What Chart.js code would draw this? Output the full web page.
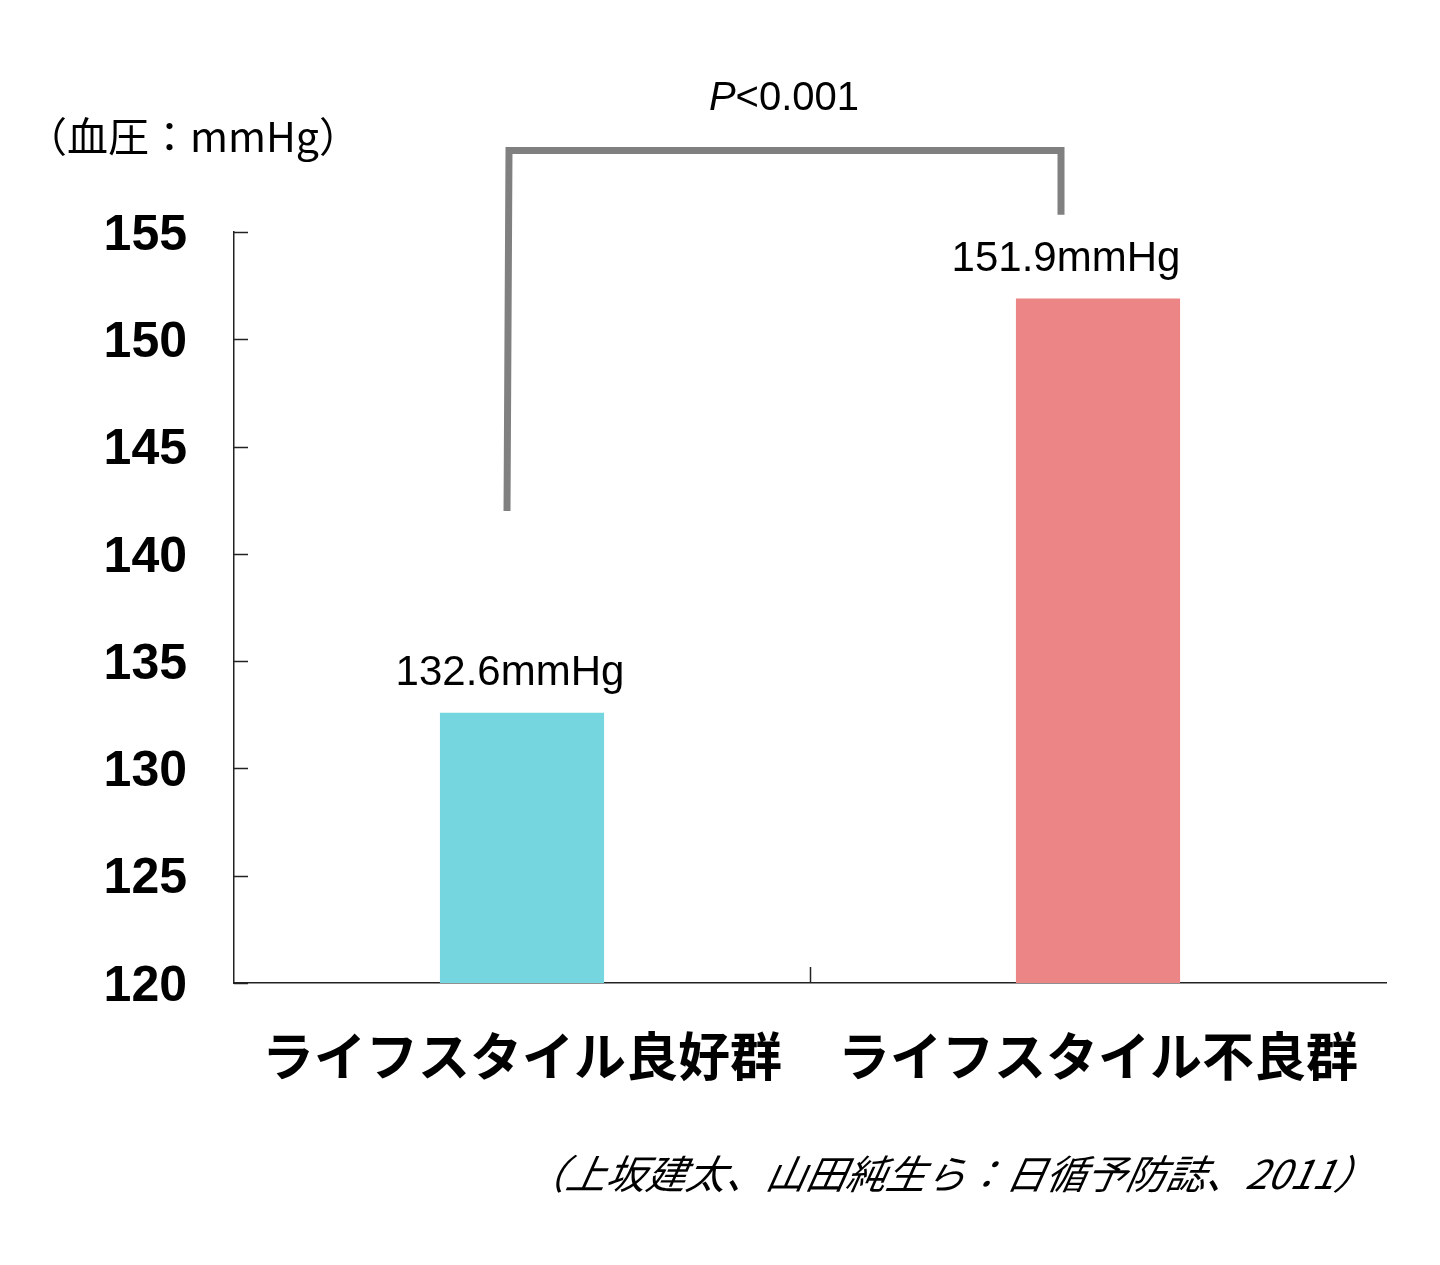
<!DOCTYPE html>
<html lang="ja">
<head>
<meta charset="utf-8">
<title>血圧 ライフスタイル</title>
<script src="https://cdn.jsdelivr.net/npm/chart.js@4/dist/chart.umd.min.js"></script>
<style>
  html, body { margin: 0; padding: 0; background: #fff; }
  #wrap { width: 1440px; height: 1265px; position: relative; }
</style>
</head>
<body>
<div id="wrap"><canvas id="chart"></canvas></div>
<script>
const groups = ["ライフスタイル良好群", "ライフスタイル不良群"];
const bloodPressure = [132.6, 151.9];
const barColors = ["#76d6df", "#ec8585"];
const yTicks = [120, 125, 130, 135, 140, 145, 150, 155];
const unitLabel = "（血圧：mmHg）";
const pLabel = "<0.001";
const sourceNote = "（上坂建太、山田純生ら：日循予防誌、2011）";

// bracket levels in axis units
const bracketTop = 158.8;
const bracketLeftEnd = 142.0;
const bracketRightEnd = 155.8;

const JP = '"Noto Sans CJK JP", sans-serif';
const LAT = '"Liberation Sans", Arial, sans-serif';

const extras = {
  id: "extras",
  afterDraw(chart) {
    const ctx = chart.ctx;
    const x = chart.scales.x, y = chart.scales.y;
    const area = chart.chartArea;
    ctx.save();

    // inward tick marks on y axis
    ctx.strokeStyle = "#222";
    ctx.lineWidth = 1.5;
    yTicks.forEach(v => {
      const py = Math.round(y.getPixelForValue(v)) + 0.5;
      ctx.beginPath();
      ctx.moveTo(area.left, py);
      ctx.lineTo(area.left + 14, py);
      ctx.stroke();
    });
    // category divider tick on x axis
    for (let i = 1; i < groups.length; i++) {
      const px = Math.round((x.getPixelForValue(i - 1) + x.getPixelForValue(i)) / 2) + 0.5;
      ctx.beginPath();
      ctx.moveTo(px, area.bottom);
      ctx.lineTo(px, area.bottom - 16);
      ctx.stroke();
    }

    // value labels
    const meta = chart.getDatasetMeta(0);
    const shift = [-12, -32];
    ctx.fillStyle = "#000";
    ctx.font = "42px " + LAT;
    ctx.textAlign = "center";
    ctx.textBaseline = "alphabetic";
    meta.data.forEach((bar, i) => {
      ctx.fillText(bloodPressure[i].toFixed(1) + "mmHg", bar.x + shift[i], bar.y - 28);
    });

    // significance bracket
    const b0 = meta.data[0], b1 = meta.data[1];
    const lx = b0.x - 15, rx = b1.x - 37;
    const ty = y.getPixelForValue(bracketTop);
    ctx.strokeStyle = "#808080";
    ctx.lineWidth = 7;
    ctx.lineJoin = "miter";
    ctx.beginPath();
    ctx.moveTo(lx, y.getPixelForValue(bracketLeftEnd));
    ctx.lineTo(lx + 2, ty);
    ctx.lineTo(rx, ty);
    ctx.lineTo(rx, y.getPixelForValue(bracketRightEnd));
    ctx.stroke();

    // P value
    const midX = (lx + rx) / 2;
    ctx.font = "italic 40px " + LAT;
    const pw = ctx.measureText("P").width;
    ctx.font = "40px " + LAT;
    const rw = ctx.measureText(pLabel).width;
    const startX = midX - (pw + rw) / 2;
    ctx.textAlign = "left";
    ctx.font = "italic 40px " + LAT;
    ctx.fillText("P", startX, 110);
    ctx.font = "40px " + LAT;
    ctx.fillText(pLabel, startX + pw, 110);

    // unit label
    ctx.font = "41px " + JP;
    ctx.textBaseline = "middle";
    ctx.fillText(unitLabel, 26, 136);

    // source note (oblique)
    ctx.font = "italic 40px " + JP;
    ctx.textAlign = "right";
    ctx.translate(1376, 1174);
    ctx.transform(1, 0, -0.2, 1, 0, 0);
    ctx.fillText(sourceNote, 0, 0);

    ctx.restore();
  }
};

new Chart(document.getElementById("chart"), {
  type: "bar",
  data: {
    labels: groups,
    datasets: [{
      data: bloodPressure,
      backgroundColor: barColors,
      borderWidth: 0,
      barPercentage: 0.57,
      categoryPercentage: 0.5
    }]
  },
  options: {
    responsive: true,
    maintainAspectRatio: false,
    devicePixelRatio: 1,
    animation: false,
    layout: { padding: { top: 232, right: 54, bottom: 162, left: 0 } },
    plugins: { legend: { display: false }, tooltip: { enabled: false } },
    scales: {
      x: {
        grid: { display: false },
        border: { display: true, color: "#222", width: 1.5 },
        ticks: {
          color: "#000",
          padding: 34,
          font: { family: JP, size: 52, weight: "bold" }
        },
        afterFit(scale) { scale.height = 120; }
      },
      y: {
        min: 120,
        max: 155,
        afterBuildTicks(scale) { scale.ticks = yTicks.map(v => ({ value: v })); },
        grid: { display: false, drawTicks: false },
        border: { display: true, color: "#222", width: 1.5 },
        ticks: {
          color: "#000",
          padding: 47,
          labelOffset: 4,
          font: { family: LAT, size: 50, weight: "bold", lineHeight: 1.05 }
        },
        afterFit(scale) { scale.width = 234; }
      }
    }
  },
  plugins: [extras]
});
</script>
</body>
</html>
